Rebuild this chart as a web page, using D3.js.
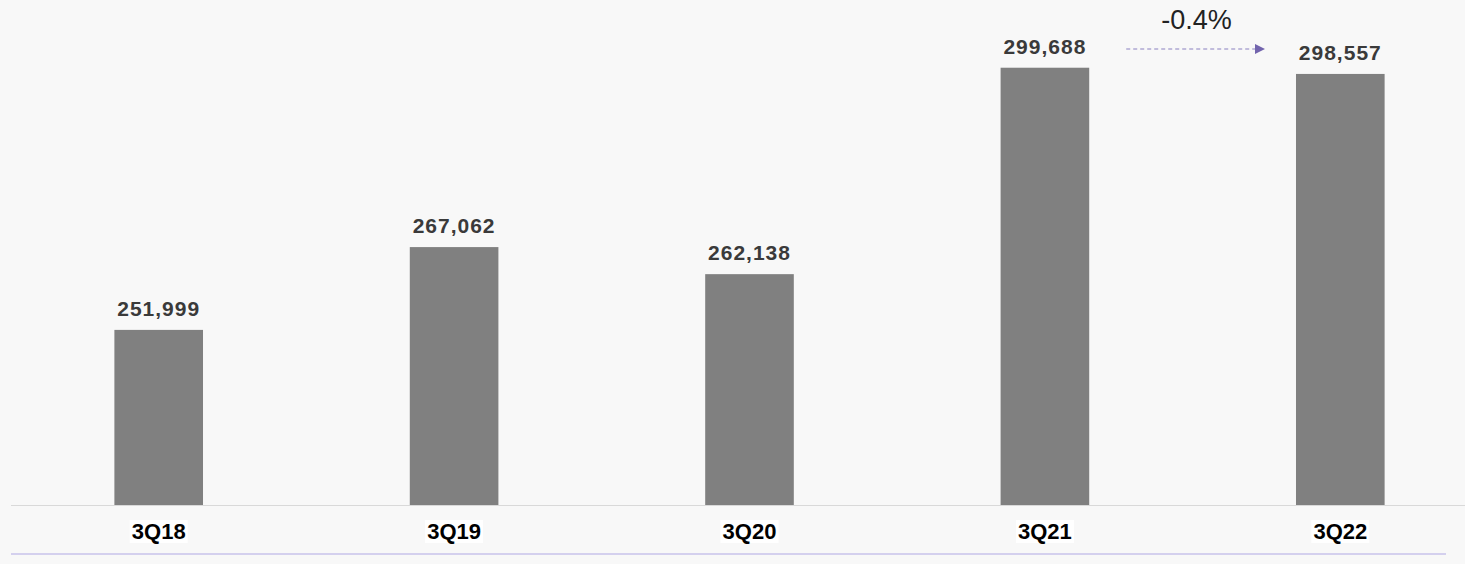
<!DOCTYPE html>
<html>
<head>
<meta charset="utf-8">
<script src="https://cdn.jsdelivr.net/npm/d3@7"></script>
<style>
  body { margin: 0; background: #f8f8f8; }
  svg { display: block; }
</style>
</head>
<body>
<div id="chart"></div>
<script>
// data
var categories = ["3Q18", "3Q19", "3Q20", "3Q21", "3Q22"];
var values = [251999, 267062, 262138, 299688, 298557];

var width = 1465, height = 564;
var baseline = 505;

var svg = d3.select("#chart")
  .append("svg")
  .attr("width", width)
  .attr("height", height);

svg.append("rect")
  .attr("width", width)
  .attr("height", height)
  .attr("fill", "#f8f8f8");

// x band scale
var x = d3.scaleBand()
  .domain(categories)
  .range([11, 1488])
  .paddingInner(0.7)
  .paddingOuter(0.35);

// y axis does not start at zero in the original
var y = d3.scaleLinear()
  .domain([220150, 300000])
  .range([baseline, 66]);

// Bars
svg.selectAll(".bar")
  .data(values)
  .enter()
  .append("rect")
  .attr("class", "bar")
  .attr("x", (d, i) => x(categories[i]))
  .attr("y", d => y(d))
  .attr("width", x.bandwidth())
  .attr("height", d => baseline - y(d))
  .attr("fill", "#808080");

// value labels
svg.selectAll(".val")
  .data(values)
  .enter()
  .append("text")
  .attr("x", (d, i) => x(categories[i]) + x.bandwidth() / 2)
  .attr("y", d => y(d) - 14)
  .attr("text-anchor", "middle")
  .style("font-family", "Liberation Sans, Arial, sans-serif")
  .style("font-weight", "bold")
  .style("font-size", "21px")
  .style("letter-spacing", "1px")
  .attr("fill", "#3a3a3a")
  .text(d => d3.format(",")(d));

// baseline
svg.append("line")
  .attr("x1", 11).attr("x2", width)
  .attr("y1", baseline + 0.5).attr("y2", baseline + 0.5)
  .attr("stroke", "#d9d9d9")
  .attr("stroke-width", 1);

// category labels with white boxes behind
var cat = svg.selectAll(".cat")
  .data(categories)
  .enter()
  .append("g")
  .attr("transform", d => `translate(${x(d) + x.bandwidth() / 2},0)`);

cat.append("rect")
  .attr("x", -29).attr("y", 520)
  .attr("width", 58).attr("height", 23)
  .attr("fill", "#ffffff");

cat.append("text")
  .attr("y", 539)
  .attr("text-anchor", "middle")
  .style("font-family", "Liberation Sans, Arial, sans-serif")
  .style("font-weight", "bold")
  .style("font-size", "22px")
  .attr("fill", "#000")
  .text(d => d);

// bottom lavender rule
svg.append("line")
  .attr("x1", 11).attr("x2", 1446)
  .attr("y1", 554).attr("y2", 554)
  .attr("stroke", "#d4d0ee")
  .attr("stroke-width", 2);

// change annotation between the last two bars
var last = values.length - 1;
var change = (values[last] / values[last - 1] - 1) * 100;

svg.append("defs")
  .append("marker")
  .attr("id", "arrow")
  .attr("viewBox", "0 0 10 10")
  .attr("refX", 0).attr("refY", 5)
  .attr("markerWidth", 13).attr("markerHeight", 10)
  .attr("markerUnits", "userSpaceOnUse")
  .attr("orient", "auto")
  .append("path")
  .attr("d", "M0,0L10,5L0,10Z")
  .attr("fill", "#7264ad");

var x0 = x(categories[last - 1]) + x.bandwidth() + 37;
var x1 = x(categories[last]) - 41;

svg.append("line")
  .attr("x1", x0).attr("x2", x1)
  .attr("y1", 49).attr("y2", 49)
  .attr("stroke", "#8a80c0")
  .attr("stroke-width", 1.2)
  .attr("stroke-dasharray", "4,3")
  .attr("marker-end", "url(#arrow)");

svg.append("text")
  .attr("x", (x0 + x1) / 2 + 6)
  .attr("y", 29)
  .attr("text-anchor", "middle")
  .style("font-family", "Liberation Sans, Arial, sans-serif")
  .style("font-size", "27px")
  .attr("fill", "#222")
  .text(change.toFixed(1) + "%");
</script>
</body>
</html>
